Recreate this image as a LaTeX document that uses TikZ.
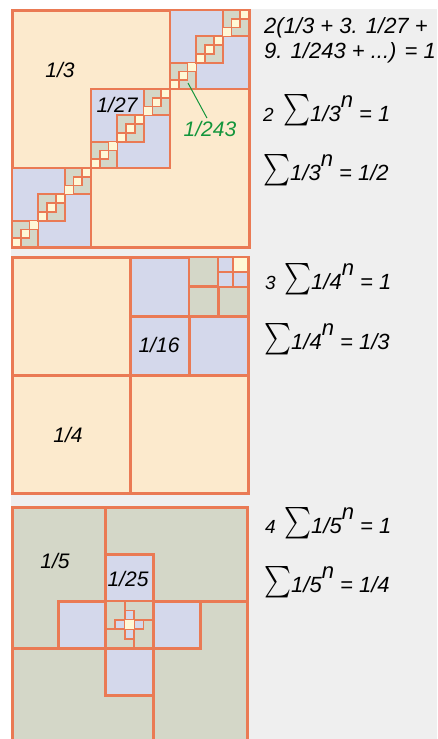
\documentclass[tikz,border=0pt]{standalone}
\usepackage{fontspec}
\setmainfont{Liberation Sans}
\usepackage{graphicx}

% big summation sign and raised exponent for the sums on the right
\newcommand{\sigmabig}{\raisebox{-6pt}{\resizebox*{27pt}{32pt}{\raisebox{\depth}{$\sum$}}}}
\newcommand{\pown}{\raisebox{0.62em}{n}}

\begin{document}
\begin{tikzpicture}[x=1pt, y=-1pt, line join=miter,
    lbl/.style={font=\fontsize{21}{24}\selectfont\itshape, inner sep=0pt},
    eq/.style={font=\fontsize{22}{26}\selectfont\itshape, inner sep=0pt, anchor=base west},
    coef/.style={font=\fontsize{19}{21}\selectfont\itshape, inner sep=0pt, anchor=base west}]

    % --- Definitions ---
    % Colors to match the image
    \definecolor{edge}{RGB}{234, 122, 84}
    \definecolor{peach}{RGB}{252, 234, 205}
    \definecolor{lavender}{RGB}{212, 216, 235}
    \definecolor{sage}{RGB}{212, 215, 200}
    \definecolor{cream}{RGB}{255, 248, 214}
    \definecolor{panel}{RGB}{239, 239, 239}
    \definecolor{mygreen}{RGB}{20, 150, 60}

    % --- Canvas ---
    \useasboundingbox (0,0) rectangle (437,739);
    \clip (0,0) rectangle (437,739);
    \fill[white] (0,0) rectangle (437,739);
    \fill[panel] (10.5,8.5) rectangle (437,739);

    % --- Square 1: thirds along the diagonal ---
    \begin{scope}[shift={(12,10)}, scale=237]
        \filldraw[fill=peach, draw=edge, line width=3pt] (0,0) rectangle (1,1);
        \foreach \i in {0,1,2} {
            \begin{scope}[shift={(\i/3,2/3-\i/3)}, scale=1/3]
                \filldraw[fill=lavender, draw=edge, line width=2.7pt] (0,0) rectangle (1,1);
                \foreach \j in {0,1,2} {
                    \begin{scope}[shift={(\j/3,2/3-\j/3)}, scale=1/3]
                        \filldraw[fill=sage, draw=edge, line width=2.2pt] (0,0) rectangle (1,1);
                        \foreach \k in {0,1,2}
                            \filldraw[fill=cream, draw=edge, line width=1.5pt]
                                (\k/3,2/3-\k/3) rectangle ++(1/3,1/3);
                    \end{scope}
                }
            \end{scope}
        }
    \end{scope}

    % --- Square 2: quarters into the corner ---
    \begin{scope}[shift={(12,257)}, scale=236]
        \foreach \k/\col/\lw in {0/peach/3, 1/lavender/3, 2/sage/2.4, 3/lavender/1.6, 4/cream/1.2} {
            \pgfmathsetmacro\side{2^(-\k)}
            \filldraw[fill=\col, draw=edge, line width=\lw pt] (1-\side,0) rectangle (1,\side);
            \ifnum\k<4
                \draw[edge, line width=\lw pt] (1-\side/2,0) -- (1-\side/2,\side)
                    (1-\side,\side/2) -- (1,\side/2);
            \fi
        }
    \end{scope}

    % --- Square 3: pinwheel of fifths ---
    \begin{scope}[shift={(12,507)}, scale=235]
        \foreach \off/\sc/\lw in {0/1/3, 0.4/0.2/1.8} {
            \begin{scope}[shift={(\off,\off)}, scale=\sc]
                \filldraw[fill=sage, draw=edge, line width=\lw pt]
                    (0,0) rectangle (0.4,0.6) (0.4,0) rectangle (1,0.4)
                    (0.6,0.4) rectangle (1,1) (0,0.6) rectangle (0.6,1);
                \filldraw[fill=lavender, draw=edge, line width=\lw pt]
                    (0.4,0.2) rectangle (0.6,0.4) (0.2,0.4) rectangle (0.4,0.6)
                    (0.4,0.6) rectangle (0.6,0.8) (0.6,0.4) rectangle (0.8,0.6);
            \end{scope}
        }
        \filldraw[fill=cream, draw=edge, line width=1.2pt] (0.48,0.48) rectangle (0.52,0.52);
    \end{scope}

    % --- Area labels ---
    \node[lbl] (third) at (60,70) {1/3};
    \node[lbl] (ninth) at (117,105) {1/27};
    \node[lbl, text=mygreen] (tiny) at (210,129) {1/243};
    \coordinate (tinyptr) at (188,83);
    \draw[mygreen, line width=1pt] (tinyptr) -- ([xshift=-3pt, yshift=3pt]tiny.north);

    \node[lbl] (quarter) at (68,435) {1/4};
    \node[lbl] (sixteenth) at (159,345) {1/16};

    \node[lbl] (fifth) at (55,561) {1/5};
    \node[lbl] (twentyfifth) at (128,579) {1/25};

    % --- Sums on the right ---
    \node[eq] (sumA1) at (264,33) {2(1/3 + 3. 1/27 +};
    \node[eq] (sumA2) at (264,58) {9. 1/243 + ...) = 1};
    \node[coef] (coefA) at (263,121) {2};
    \node[eq] (sumA3) at (283,121) {\sigmabig1/3\pown{} = 1};
    \node[eq] (sumA4) at (263,180) {\sigmabig1/3\pown{} = 1/2};

    \node[coef] (coefB) at (265,289) {3};
    \node[eq] (sumB1) at (284,289) {\sigmabig1/4\pown{} = 1};
    \node[eq] (sumB2) at (264,349) {\sigmabig1/4\pown{} = 1/3};

    \node[coef] (coefC) at (265,533) {4};
    \node[eq] (sumC1) at (284,533) {\sigmabig1/5\pown{} = 1};
    \node[eq] (sumC2) at (264,592) {\sigmabig1/5\pown{} = 1/4};

\end{tikzpicture}
\end{document}
